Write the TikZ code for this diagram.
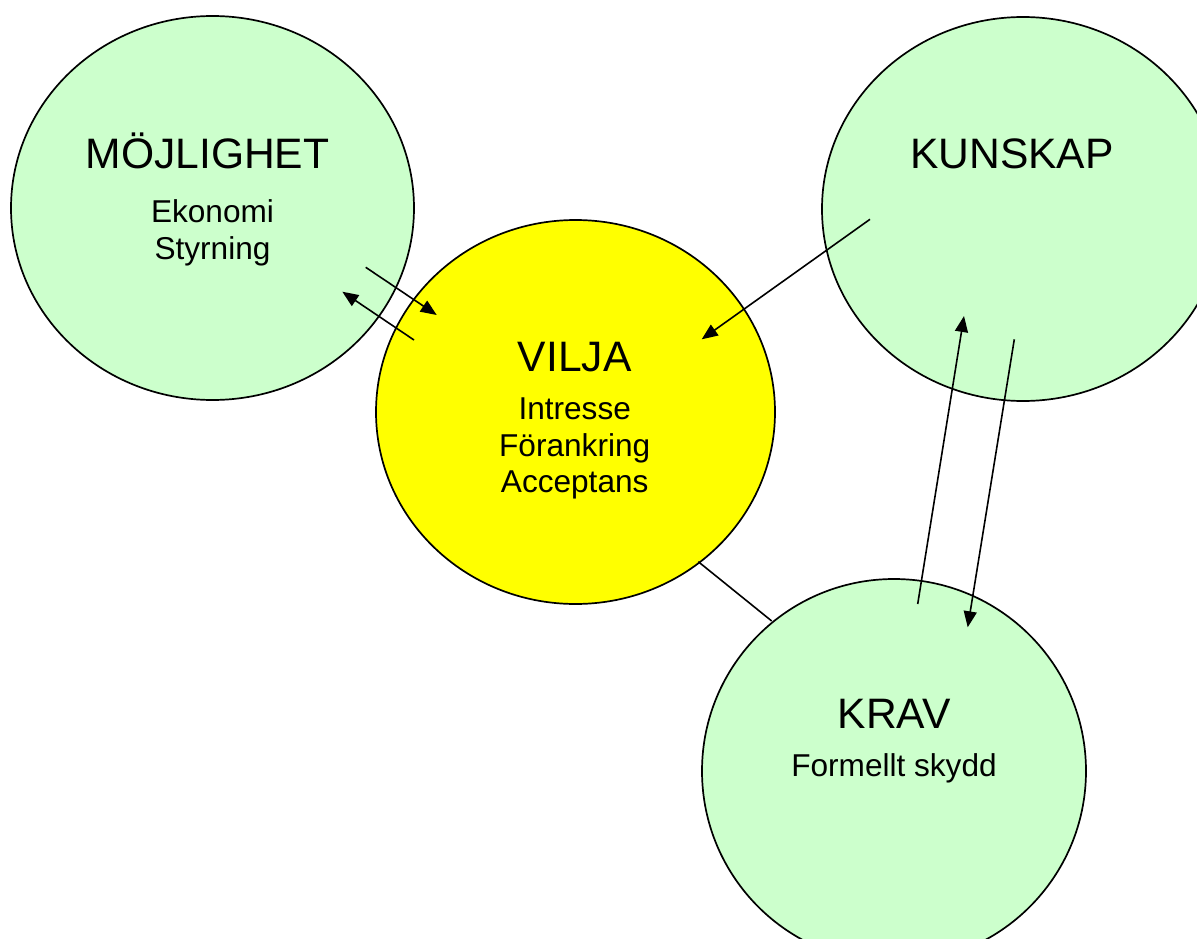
\documentclass[tikz,border=0pt]{standalone}
\usepackage{fontspec}
\setmainfont{Liberation Sans}
\usetikzlibrary{shapes.geometric,arrows.meta}
\definecolor{lgreen}{HTML}{CCFFCC}
\definecolor{vyellow}{HTML}{FFFF00}
\tikzset{
  bubble/.style={ellipse, draw=black, line width=1.7pt, inner sep=0pt},
  greenbubble/.style={bubble, fill=lgreen},
  yellowbubble/.style={bubble, fill=vyellow},
  bigtext/.style={anchor=base, inner sep=0pt, font=\fontsize{42.6}{48}\selectfont},
  smalltext/.style={anchor=base, inner sep=0pt, font=\fontsize{31.6}{36}\selectfont},
  arr/.style={line width=1.6pt, -{Triangle[length=16pt,width=13pt]}},
  plainline/.style={line width=1.6pt}
}
\begin{document}
\begin{tikzpicture}[x=1pt,y=-1pt]
\useasboundingbox (0,0) rectangle (1197,939);
\clip (0,0) rectangle (1197,939);
\fill[white] (0,0) rectangle (1197,939);
% circles
\node[greenbubble, minimum width=403pt, minimum height=384pt] (moj) at (212.5,208) {};
\node[greenbubble, minimum width=402pt, minimum height=384pt] (kun) at (1023,209) {};
\node[greenbubble, minimum width=384pt, minimum height=384pt] (krav) at (894,771) {};
\node[yellowbubble, minimum width=399pt, minimum height=384pt] (vilja) at (575.5,412) {};
% texts
\node[bigtext] (mojT) at (207.5,168) {MÖJLIGHET};
\node[smalltext] (mojA) at (212.5,222.7) {Ekonomi};
\node[smalltext] (mojB) at (212.5,259.5) {Styrning};
\node[bigtext] (kunT) at (1012,168.3) {KUNSKAP};
\node[bigtext] (vilT) at (574.7,371.7) {VILJA};
\node[smalltext] (vilA) at (574.7,419) {Intresse};
\node[smalltext] (vilB) at (574.7,456) {Förankring};
\node[smalltext] (vilC) at (574.7,492) {Acceptans};
\node[bigtext] (kravT) at (894,728) {KRAV};
\node[smalltext] (kravA) at (894,776.7) {Formellt skydd};
% connector end points
\coordinate (m2vS) at (365.7,267.3);
\coordinate (m2vE) at (436.7,315);
\coordinate (v2mS) at (414,340);
\coordinate (v2mE) at (342.3,291.7);
\coordinate (k2vS) at (870,219.3);
\coordinate (k2vE) at (701.7,339.3);
\coordinate (r2kS) at (917.7,604);
\coordinate (r2kE) at (964,316);
\coordinate (k2rS) at (1014.3,339.3);
\coordinate (k2rE) at (967.7,627.3);
\coordinate (vrS) at (698.3,561.7);
\coordinate (vrE) at (771.7,621);
% connectors
\draw[arr] (m2vS) -- (m2vE);
\draw[arr] (v2mS) -- (v2mE);
\draw[arr] (k2vS) -- (k2vE);
\draw[arr] (r2kS) -- (r2kE);
\draw[arr] (k2rS) -- (k2rE);
\draw[plainline] (vrS) -- (vrE);
\end{tikzpicture}
\end{document}
